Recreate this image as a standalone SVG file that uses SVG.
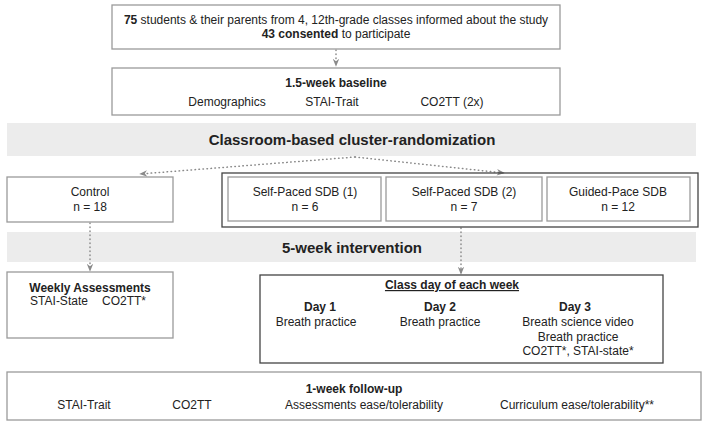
<svg xmlns="http://www.w3.org/2000/svg" width="708" height="426" viewBox="0 0 708 426">
<style>
text{font-family:"Liberation Sans",Arial,sans-serif;font-size:12px;fill:#222;text-anchor:middle}
.b{font-weight:bold}
.h{font-weight:bold;font-size:15px}
.box{fill:#fff;stroke:#9a9a9a;stroke-width:1.3}
.dark{fill:none;stroke:#444;stroke-width:1.3}
.band{fill:#ececec}
.con{fill:none;stroke:#8a8a8a;stroke-width:1.5;stroke-dasharray:0.5 3.5;stroke-linecap:round}
</style>
<defs>
<marker id="ah" viewBox="0 0 10 10" refX="9" refY="5" markerWidth="8" markerHeight="8" markerUnits="userSpaceOnUse" orient="auto">
<path d="M0,1 L10,5 L0,9 L3,5 z" fill="#8a8a8a"/>
</marker>
</defs>
<rect id="band-randomization" class="band" x="7" y="123" width="689" height="33"/>
<text class="h" x="352" y="145">Classroom-based cluster-randomization</text>
<rect id="band-intervention" class="band" x="7" y="232" width="689" height="30"/>
<text class="h" x="352" y="253">5-week intervention</text>
<g id="connectors">
<line class="con" x1="336" y1="50" x2="336" y2="66" marker-end="url(#ah)"/>
<line class="con" x1="355" y1="157" x2="140" y2="174" marker-end="url(#ah)"/>
<line class="con" x1="355" y1="157" x2="504" y2="173" marker-end="url(#ah)"/>
<line class="con" x1="90" y1="223" x2="90" y2="271" marker-end="url(#ah)"/>
<line class="con" x1="461" y1="228" x2="461" y2="274" marker-end="url(#ah)"/>
</g>
<g id="informed">
<rect class="box" x="112" y="5" width="448" height="44"/>
<text x="336" y="24"><tspan class="b">75</tspan> students &amp; their parents from 4, 12th-grade classes informed about the study</text>
<text x="336" y="38"><tspan class="b">43 consented</tspan> to participate</text>
</g>
<g id="baseline">
<rect class="box" x="112" y="68" width="448" height="47"/>
<text class="b" x="336" y="87">1.5-week baseline</text>
<text x="227" y="106">Demographics</text>
<text x="332" y="106">STAI-Trait</text>
<text x="452" y="106">CO2TT (2x)</text>
</g>
<g id="control">
<rect class="box" x="7" y="177" width="166" height="45"/>
<text x="90" y="196">Control</text>
<text x="90" y="211">n = 18</text>
</g>
<g id="sdb-group">
<rect class="dark" x="222" y="173" width="476" height="54"/>
</g>
<g id="sdb1">
<rect class="box" x="228" y="177" width="153" height="44"/>
<text x="305" y="196">Self-Paced SDB (1)</text>
<text x="305" y="211">n = 6</text>
</g>
<g id="sdb2">
<rect class="box" x="386" y="177" width="156" height="44"/>
<text x="464" y="196">Self-Paced SDB (2)</text>
<text x="464" y="211">n = 7</text>
</g>
<g id="guided">
<rect class="box" x="547" y="177" width="143" height="44"/>
<text x="618" y="196">Guided-Pace SDB</text>
<text x="618" y="211">n = 12</text>
</g>
<g id="weekly">
<rect class="box" x="7" y="272" width="166" height="66"/>
<text class="b" x="90" y="292">Weekly Assessments</text>
<text x="59" y="305">STAI-State</text>
<text x="124" y="305">CO2TT*</text>
</g>
<g id="classday">
<rect class="dark" x="260" y="275" width="403" height="88"/>
<text class="b" x="452" y="289" text-decoration="underline">Class day of each week</text>
<text class="b" x="320" y="311">Day 1</text>
<text x="316" y="326">Breath practice</text>
<text class="b" x="440" y="311">Day 2</text>
<text x="440" y="326">Breath practice</text>
<text class="b" x="575" y="311">Day 3</text>
<text x="578" y="326">Breath science video</text>
<text x="578" y="341">Breath practice</text>
<text x="578" y="355">CO2TT*, STAI-state*</text>
</g>
<g id="followup">
<rect class="box" x="7" y="372" width="694" height="48"/>
<text class="b" x="354" y="393">1-week follow-up</text>
<text x="84" y="409">STAI-Trait</text>
<text x="192" y="409">CO2TT</text>
<text x="364" y="409">Assessments ease/tolerability</text>
<text x="577" y="409">Curriculum ease/tolerability**</text>
</g>
</svg>
